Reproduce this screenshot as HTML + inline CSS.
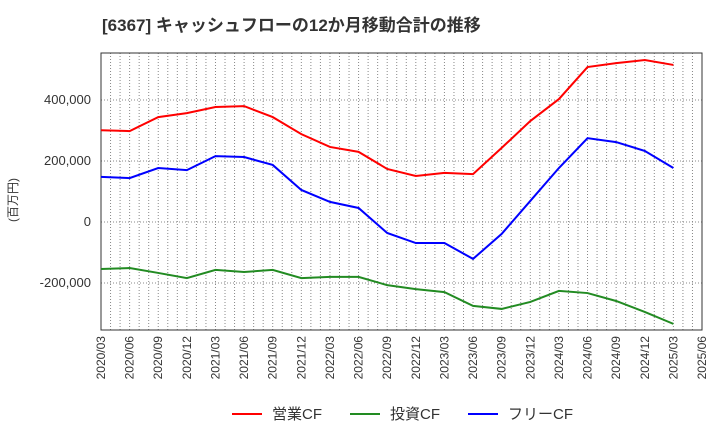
<!DOCTYPE html>
<html><head><meta charset="utf-8"><style>
body{margin:0;background:#fff;font-family:"Liberation Sans","Noto Sans CJK JP",sans-serif}
</style></head><body>
<svg id="c" width="720" height="440" style="display:block;font-family:'Liberation Sans','Noto Sans CJK JP',sans-serif">
<text x="102" y="31" font-size="17" font-weight="bold" fill="#333">[6367]  キャッシュフローの12か月移動合計の推移</text>
<text transform="translate(17,200) rotate(-90)" font-size="12" fill="#333" text-anchor="middle">(百万円)</text>
<g id="grid"></g><g id="axes"></g><g id="series"></g>
<g>
<line x1="232" y1="414" x2="262" y2="414" stroke="#f00" stroke-width="2"/><text x="272" y="419" font-size="15" fill="#333">営業CF</text>
<line x1="350" y1="414" x2="380" y2="414" stroke="#228b22" stroke-width="2"/><text x="390" y="419" font-size="15" fill="#333">投資CF</text>
<line x1="468" y1="414" x2="498" y2="414" stroke="#00f" stroke-width="2"/><text x="508" y="419" font-size="15" fill="#333">フリーCF</text>
</g>
</svg>
<script>
const xLabels=["2020/03","2020/06","2020/09","2020/12","2021/03","2021/06","2021/09","2021/12","2022/03","2022/06","2022/09","2022/12","2023/03","2023/06","2023/09","2023/12","2024/03","2024/06","2024/09","2024/12","2025/03","2025/06"];
const yTicks=[-200000,0,200000,400000];
const operatingCF=[301000,298000,344000,357000,377000,380000,344000,288000,246000,230000,174000,151000,161000,157000,243000,331000,403000,508000,521000,531000,515000];
const investingCF=[-154000,-151000,-167000,-184000,-157000,-164000,-157000,-184000,-180000,-180000,-207000,-220000,-230000,-275000,-285000,-262000,-226000,-233000,-259000,-295000,-334000];
const freeCF=[148000,144000,177000,170000,216000,213000,187000,105000,66000,46000,-36000,-69000,-69000,-121000,-39000,69000,177000,275000,262000,233000,177000];
const L=101,R=702,T=53,B=330;
const ns="http://www.w3.org/2000/svg";
const step=(R-L)/(xLabels.length-1);
const xs=i=>L+i*step;
const ys=v=>222-v*61/200000;
function mk(t,a,p){const e=document.createElementNS(ns,t);for(const k in a)e.setAttribute(k,a[k]);p.appendChild(e);return e;}
const g=document.getElementById('grid'),ax=document.getElementById('axes'),s=document.getElementById('series');
for(let m=1;m<(xLabels.length-1)*3;m++){const x=L+m*step/3;const l=mk('line',{x1:x,x2:x,y1:T,y2:B,stroke:'#888','stroke-width':1,'stroke-dasharray':'1,2'},g);

}
yTicks.forEach(v=>{const y=ys(v);const l=mk('line',{x1:L,x2:R,y1:y,y2:y,stroke:'#888','stroke-width':1,'stroke-dasharray':'1,2'},g);


const t=mk('text',{x:L-10,y:y+4,'font-size':13,fill:'#333','text-anchor':'end'},ax);t.textContent=v.toLocaleString('en-US');

});
const fr=mk('rect',{x:L,y:T,width:R-L,height:B-T,fill:'none',stroke:'#333','stroke-width':1},ax);


xLabels.forEach((lb,i)=>{const x=xs(i);const t=mk('text',{transform:`translate(${x+4},${B+6}) rotate(-90)`,'font-size':12,fill:'#333','text-anchor':'end'},ax);t.textContent=lb;

});
[[operatingCF,'#f00','operating-cf-line'],[investingCF,'#228b22','investing-cf-line'],[freeCF,'#00f','free-cf-line']].forEach(([d,c,n])=>{
const p=mk('polyline',{points:d.map((v,i)=>xs(i)+','+ys(v)).join(' '),fill:'none',stroke:c,'stroke-width':2},s);

});
</script>
</body></html>
